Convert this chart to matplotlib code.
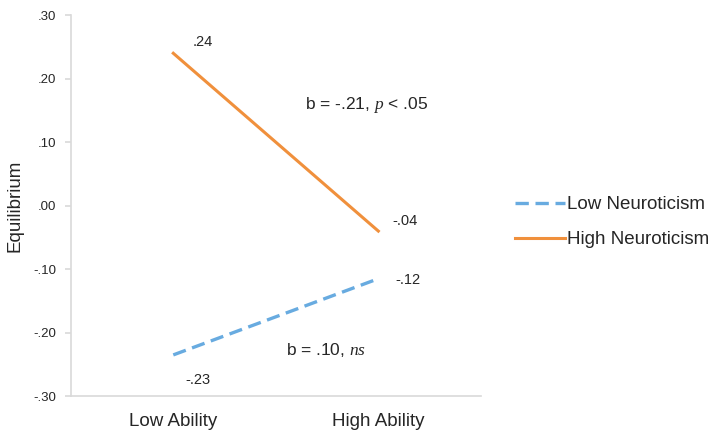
import matplotlib

matplotlib.use("Agg")
import matplotlib.pyplot as plt

plt.rcParams["font.family"] = ["Liberation Sans", "DejaVu Sans"]
plt.rcParams["mathtext.fontset"] = "custom"
plt.rcParams["mathtext.rm"] = "Liberation Sans"
plt.rcParams["mathtext.it"] = "Liberation Serif:italic"

# data
categories = ["Low Ability", "High Ability"]
low_neuro = [-0.235, -0.115]
high_neuro = [0.24, -0.04]
low_labels = ["-.23", "-.12"]
high_labels = [".24", "-.04"]
y_ticks = [-0.30, -0.20, -0.10, 0.0, 0.10, 0.20, 0.30]
y_tick_labels = ["-.30", "-.20", "-.10", ".00", ".10", ".20", ".30"]

TEXT = "#262626"
SPINE = "#d9d9d9"
BLUE = "#68abe0"
ORANGE = "#f0903c"

fig = plt.figure(figsize=(7.22, 4.33), dpi=100)
ax = fig.add_axes([0.098, 0.085, 0.568, 0.88])

x = list(range(len(categories)))
ax.plot(x, low_neuro, color=BLUE, lw=2.4, dashes=(4, 2), label="Low Neuroticism")
ax.plot(x, high_neuro, color=ORANGE, lw=2.2, label="High Neuroticism")

# value labels
lab_kw = dict(textcoords="offset points", ha="left", va="center", fontsize=10.5, color=TEXT)
ax.annotate(high_labels[0], (x[0], high_neuro[0]), xytext=(14, 8), **lab_kw)
ax.annotate(high_labels[1], (x[1], high_neuro[1]), xytext=(10, 7), **lab_kw)
ax.annotate(low_labels[1], (x[1], low_neuro[1]), xytext=(12, -1), **lab_kw)
ax.annotate(low_labels[0], (x[0], low_neuro[0]), xytext=(9, -18), **lab_kw)

ax.text(0.94, 0.158, "b = -.21, $p$ < .05", ha="center", va="center",
        fontsize=12.5, color=TEXT)
ax.text(0.745, -0.228, "b = .10, $ns$", ha="center", va="center",
        fontsize=12.5, color=TEXT)

ax.set_xlim(-0.5, 1.5)
ax.set_ylim(-0.30, 0.30)
ax.set_xticks(x)
ax.set_xticklabels(categories, fontsize=13.5, color=TEXT)
ax.set_yticks(y_ticks)
ax.set_yticklabels(y_tick_labels, fontsize=9.5, color=TEXT)
ax.tick_params(axis="x", length=0, pad=12)
ax.tick_params(axis="y", length=4.5, color=SPINE, width=1.2, pad=6)
ax.set_ylabel("Equilibrium", fontsize=13.5, color=TEXT, labelpad=7)

for side in ("top", "right"):
    ax.spines[side].set_visible(False)
for side in ("left", "bottom"):
    ax.spines[side].set_color(SPINE)
    ax.spines[side].set_linewidth(1.2)

ax.legend(loc="center left", bbox_to_anchor=(0.713, 0.487), bbox_transform=fig.transFigure,
          frameon=False, fontsize=13.5, borderpad=0, borderaxespad=0,
          handlelength=2.7, handletextpad=0.1, labelspacing=0.95,
          labelcolor=TEXT)

fig.savefig("out.png", dpi=100)
